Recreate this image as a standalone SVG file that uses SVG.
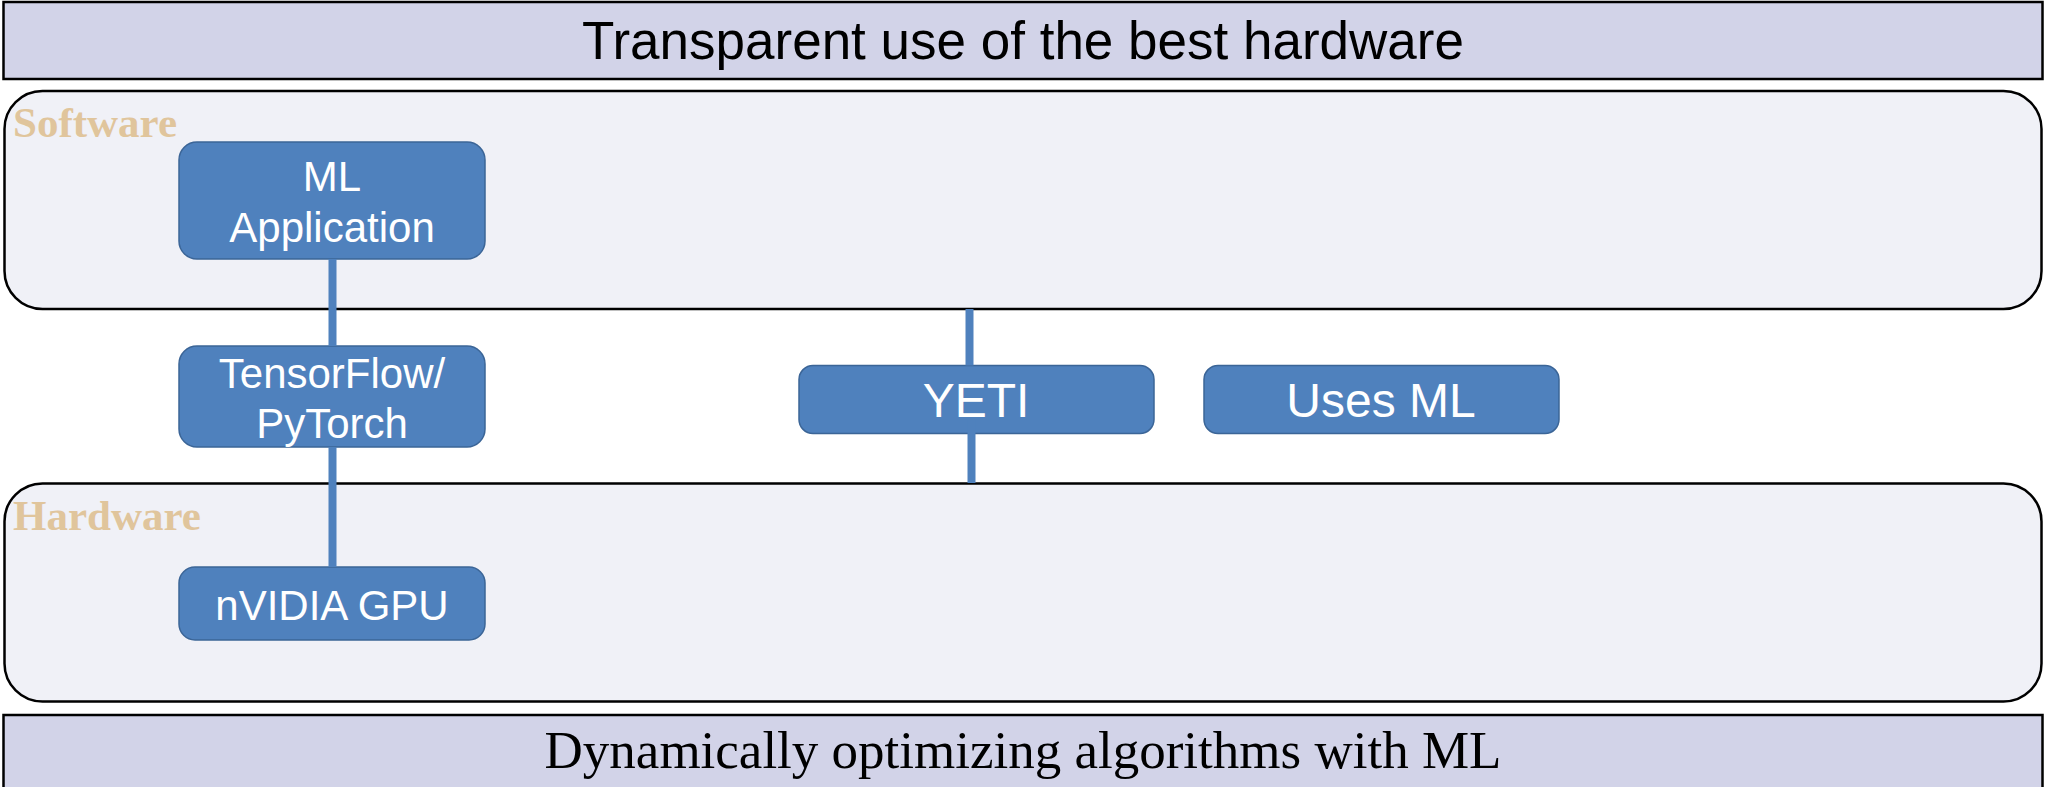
<svg xmlns="http://www.w3.org/2000/svg" width="2045" height="787" viewBox="0 0 2045 787">
<style>
.banner{fill:#D2D3E8;stroke:#000;stroke-width:2.5}
.panel{fill:#F0F1F7;stroke:#000;stroke-width:2.5}
.node{fill:#4F81BD;stroke:#3B6597;stroke-width:1.5}
.ntxt{font-family:"Liberation Sans",Arial,sans-serif;fill:#fff;text-anchor:middle}
.lbl{font-family:"Liberation Serif","Times New Roman",serif;font-weight:bold;fill:#E0C59C;font-size:43px}
.conn{stroke:#4F81BD;stroke-width:8;fill:none}
</style>
<rect width="2045" height="787" fill="#fff"/>
<g id="top-banner">
<rect class="banner" x="3.5" y="2" width="2039" height="77"/>
<text x="1023" y="59" font-family="Liberation Sans, Arial, sans-serif" font-size="53" text-anchor="middle" fill="#000">Transparent use of the best hardware</text>
</g>
<g id="software">
<rect class="panel" x="4.5" y="91" width="2037" height="218" rx="38" ry="38"/>
<text class="lbl" x="13" y="137">Software</text>
</g>
<g id="hardware">
<rect class="panel" x="4.5" y="483.5" width="2037" height="218" rx="38" ry="38"/>
<text class="lbl" x="13" y="530">Hardware</text>
</g>
<g id="bottom-banner">
<rect class="banner" x="3.5" y="715" width="2039" height="80"/>
<text x="1023" y="768" font-family="Liberation Serif, 'Times New Roman', serif" font-size="53" text-anchor="middle" fill="#000">Dynamically optimizing algorithms with ML</text>
</g>
<g id="ml-application">
<rect class="node" x="179" y="142" width="306" height="117" rx="18"/>
<text class="ntxt" x="332" y="191" font-size="42">ML</text>
<text class="ntxt" x="332" y="242" font-size="42">Application</text>
</g>
<g id="tensorflow">
<rect class="node" x="179" y="346" width="306" height="101" rx="18"/>
<text class="ntxt" x="332" y="388" font-size="42">TensorFlow/</text>
<text class="ntxt" x="332" y="438" font-size="42">PyTorch</text>
</g>
<g id="nvidia-gpu">
<rect class="node" x="179" y="567" width="306" height="73" rx="16"/>
<text class="ntxt" x="332" y="620" font-size="42">nVIDIA GPU</text>
</g>
<g id="yeti">
<rect class="node" x="799" y="365.5" width="355" height="68" rx="14"/>
<text class="ntxt" x="976" y="417" font-size="48">YETI</text>
</g>
<g id="uses-ml">
<rect class="node" x="1204" y="365.5" width="355" height="68" rx="14"/>
<text class="ntxt" x="1381" y="417" font-size="48">Uses ML</text>
</g>
<g id="connectors">
<line class="conn" x1="332.5" y1="259" x2="332.5" y2="346"/>
<line class="conn" x1="332.5" y1="447" x2="332.5" y2="567"/>
<line class="conn" x1="969.5" y1="309" x2="969.5" y2="365.5"/>
<line class="conn" x1="971.5" y1="420" x2="971.5" y2="483"/>
</g>
</svg>
